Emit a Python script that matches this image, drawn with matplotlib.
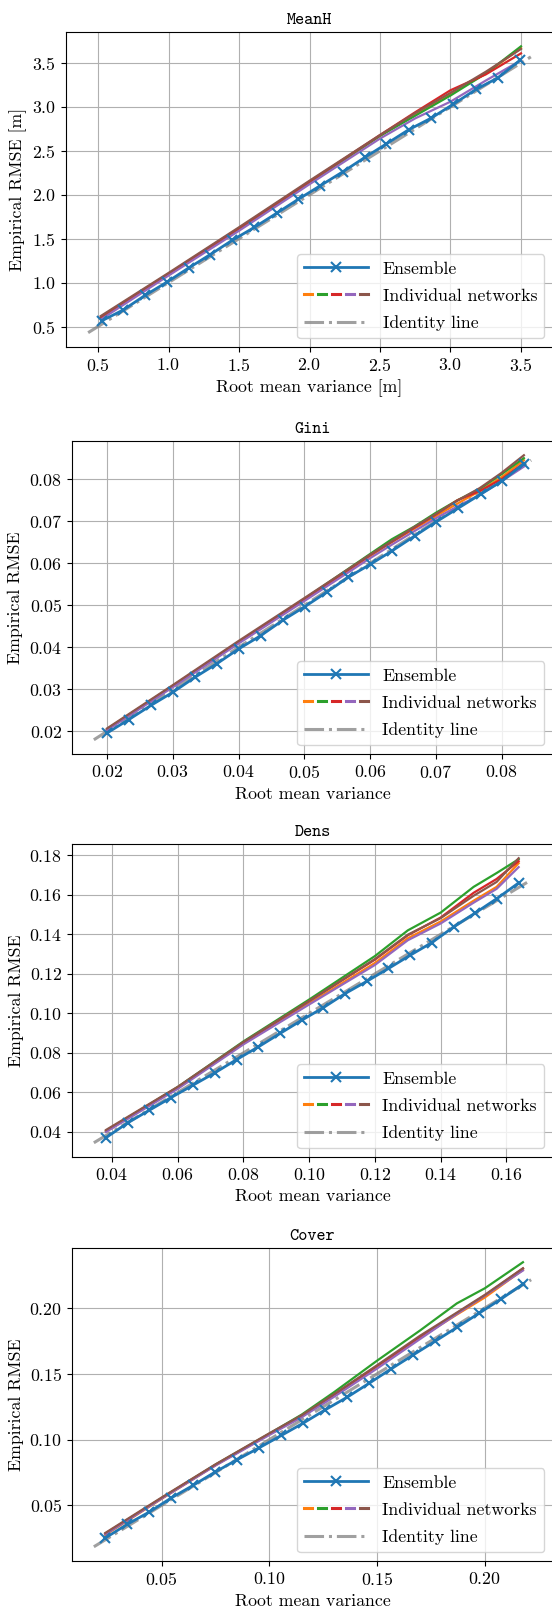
import matplotlib
matplotlib.use("Agg")
import matplotlib.pyplot as plt
from matplotlib.lines import Line2D
from matplotlib.legend_handler import HandlerTuple
from matplotlib.ticker import MultipleLocator

plt.rcParams['font.family'] = 'serif'
plt.rcParams['font.serif'] = ['cmr10']
plt.rcParams['mathtext.fontset'] = 'cm'
plt.rcParams['axes.formatter.use_mathtext'] = True
plt.rcParams['font.size'] = 12.8

net_colors = ['tab:orange', 'tab:green', 'tab:red', 'tab:purple', 'tab:brown']

# --- MeanH ---
meanh_x = [0.53, 0.68, 0.836, 0.99, 1.145, 1.297, 1.451, 1.608, 1.767, 1.919,
           2.073, 2.235, 2.397, 2.546, 2.703, 2.86, 3.019, 3.181, 3.335, 3.492]
meanh_ens = [0.568, 0.69, 0.857, 1.007, 1.169, 1.32, 1.481, 1.628, 1.79, 1.947,
             2.10, 2.26, 2.43, 2.58, 2.74, 2.87, 3.03, 3.20, 3.33, 3.53]
meanh_net_x = [0.52, 1.0, 1.5, 2.0, 2.5, 2.75, 3.0, 3.25, 3.5]
meanh_nets = [
    [0.60, 1.09, 1.61, 2.14, 2.67, 2.92, 3.15, 3.38, 3.67],
    [0.60, 1.09, 1.61, 2.14, 2.67, 2.90, 3.13, 3.38, 3.69],
    [0.61, 1.10, 1.62, 2.15, 2.68, 2.94, 3.19, 3.37, 3.61],
    [0.58, 1.08, 1.59, 2.12, 2.64, 2.87, 3.06, 3.30, 3.53],
    [0.62, 1.11, 1.63, 2.16, 2.68, 2.93, 3.16, 3.40, 3.66],
]
meanh_ident = [0.43, 3.57]

# --- Gini ---
gini_x = [0.0200, 0.0233, 0.0267, 0.0300, 0.0334, 0.0367, 0.0400, 0.0434, 0.0467, 0.0501,
          0.0534, 0.0567, 0.0601, 0.0634, 0.0668, 0.0701, 0.0734, 0.0768, 0.0801, 0.0834]
gini_ens = [0.0196, 0.0228, 0.0262, 0.0293, 0.0329, 0.0361, 0.0396, 0.0428, 0.0464, 0.0497,
            0.0531, 0.0567, 0.0598, 0.0630, 0.0665, 0.0699, 0.0731, 0.0764, 0.0796, 0.0837]
gini_net_x = [0.02, 0.03, 0.04, 0.05, 0.06, 0.0633, 0.0667, 0.07, 0.0733, 0.0767, 0.08, 0.0834]
gini_nets = [
    [0.0204, 0.0307, 0.0411, 0.0513, 0.0617, 0.0650, 0.0682, 0.0712, 0.0742, 0.0772, 0.0805, 0.0845],
    [0.0205, 0.0308, 0.0412, 0.0515, 0.0622, 0.0657, 0.0687, 0.0720, 0.0750, 0.0777, 0.0812, 0.0850],
    [0.0205, 0.0308, 0.0412, 0.0514, 0.0619, 0.0651, 0.0684, 0.0716, 0.0750, 0.0772, 0.0800, 0.0838],
    [0.0203, 0.0305, 0.0409, 0.0510, 0.0612, 0.0644, 0.0676, 0.0707, 0.0735, 0.0763, 0.0795, 0.0830],
    [0.0207, 0.0310, 0.0415, 0.0517, 0.0620, 0.0652, 0.0686, 0.0717, 0.0749, 0.0779, 0.0815, 0.0857],
]
gini_ident = [0.018, 0.0845]

# --- Dens ---
dens_x = [0.0382, 0.0448, 0.0514, 0.0580, 0.0646, 0.0713, 0.0779, 0.0845, 0.0911, 0.0977,
          0.1043, 0.1109, 0.1175, 0.1241, 0.1307, 0.1373, 0.1439, 0.1505, 0.1571, 0.1637]
dens_ens = [0.0371, 0.0446, 0.0510, 0.0574, 0.0636, 0.0699, 0.0766, 0.0830, 0.0898, 0.0965,
            0.1029, 0.1100, 0.1162, 0.1227, 0.1294, 0.1358, 0.1437, 0.1508, 0.1581, 0.1660]
dens_net_x = [0.0382, 0.06, 0.08, 0.10, 0.12, 0.13, 0.14, 0.15, 0.157, 0.1637]
dens_nets = [
    [0.0402, 0.0622, 0.0848, 0.1050, 0.1255, 0.1380, 0.1465, 0.1570, 0.1640, 0.1760],
    [0.0405, 0.0627, 0.0858, 0.1070, 0.1290, 0.1420, 0.1510, 0.1640, 0.1710, 0.1780],
    [0.0405, 0.0625, 0.0852, 0.1062, 0.1272, 0.1395, 0.1485, 0.1610, 0.1680, 0.1770],
    [0.0400, 0.0618, 0.0843, 0.1045, 0.1245, 0.1370, 0.1455, 0.1560, 0.1630, 0.1740],
    [0.0410, 0.0628, 0.0855, 0.1062, 0.1275, 0.1398, 0.1482, 0.1595, 0.1665, 0.1785],
]
dens_ident = [0.0345, 0.1675]

# --- Cover ---
cover_x = [0.0238, 0.0340, 0.0442, 0.0544, 0.0646, 0.0748, 0.0850, 0.0953, 0.1055, 0.1157,
           0.1259, 0.1361, 0.1463, 0.1565, 0.1667, 0.1769, 0.1871, 0.1973, 0.2075, 0.2177]
cover_ens = [0.0252, 0.0356, 0.0449, 0.0556, 0.0652, 0.0753, 0.0847, 0.0938, 0.1031, 0.1125,
             0.1226, 0.1322, 0.1428, 0.1537, 0.1643, 0.1747, 0.1853, 0.1960, 0.2068, 0.2182]
cover_net_x = [0.0238, 0.05, 0.075, 0.10, 0.115, 0.13, 0.15, 0.17, 0.187, 0.20, 0.2177]
cover_nets = [
    [0.0275, 0.0550, 0.0805, 0.1040, 0.1175, 0.1335, 0.1555, 0.1775, 0.1950, 0.2080, 0.2290],
    [0.0283, 0.0555, 0.0810, 0.1045, 0.1190, 0.1360, 0.1600, 0.1830, 0.2035, 0.2150, 0.2348],
    [0.0285, 0.0555, 0.0808, 0.1042, 0.1180, 0.1340, 0.1560, 0.1780, 0.1960, 0.2095, 0.2300],
    [0.0280, 0.0552, 0.0803, 0.1035, 0.1170, 0.1325, 0.1540, 0.1765, 0.1955, 0.2095, 0.2285],
    [0.0290, 0.0560, 0.0812, 0.1048, 0.1185, 0.1345, 0.1565, 0.1790, 0.1965, 0.2100, 0.2302],
]
cover_ident = [0.0185, 0.2215]

panels = [
    ("MeanH", meanh_x, meanh_ens, meanh_net_x, meanh_nets, meanh_ident, " [m]", 0.5),
    ("Gini", gini_x, gini_ens, gini_net_x, gini_nets, gini_ident, "", 0.01),
    ("Dens", dens_x, dens_ens, dens_net_x, dens_nets, dens_ident, "", 0.02),
    ("Cover", cover_x, cover_ens, cover_net_x, cover_nets, cover_ident, "", 0.05),
]

# axes boxes in pixels: left, top, bottom  (right edge sits on the figure edge)
W, H = 552, 1609
boxes = [(66, 32, 347), (72, 441, 754), (72, 844, 1157), (72, 1248, 1561)]

fig = plt.figure(figsize=(W / 100, H / 100), dpi=100)

for (name, x, ens, net_x, nets, ident, unit, step), (l, t, b) in zip(panels, boxes):
    ax = fig.add_axes([l / W, 1 - b / H, (553 - l) / W, (b - t) / H])
    ax.plot(ident, ident, '-.', color='gray', alpha=0.75, lw=2.2, zorder=2)
    for ys, c in zip(nets, net_colors):
        ax.plot(net_x, ys, color=c, lw=1.6, zorder=3)
    ax.plot(x, ens, '-x', color='tab:blue', lw=2.0, ms=7, mew=1.5, zorder=4)

    ax.set_title(name, fontfamily='cmtt10', fontsize=12.5)
    ax.set_xlabel("Root mean variance" + unit)
    ax.set_ylabel("Empirical RMSE" + unit)
    ax.xaxis.set_major_locator(MultipleLocator(step))
    ax.yaxis.set_major_locator(MultipleLocator(step))
    ax.grid(True)

    h_ens = Line2D([], [], color='tab:blue', marker='x', lw=2.0, ms=7, mew=1.5)
    h_nets = tuple(Line2D([], [], color=c, lw=2.2) for c in net_colors)
    h_id = Line2D([], [], ls='-.', color='gray', alpha=0.75, lw=2.2)
    ax.legend([h_ens, h_nets, h_id], ["Ensemble", "Individual networks", "Identity line"],
              loc='lower right', handlelength=3.6, labelspacing=0.65,
              handler_map={tuple: HandlerTuple(ndivide=None, pad=0.35)})

fig.savefig("out.png", dpi=100)
